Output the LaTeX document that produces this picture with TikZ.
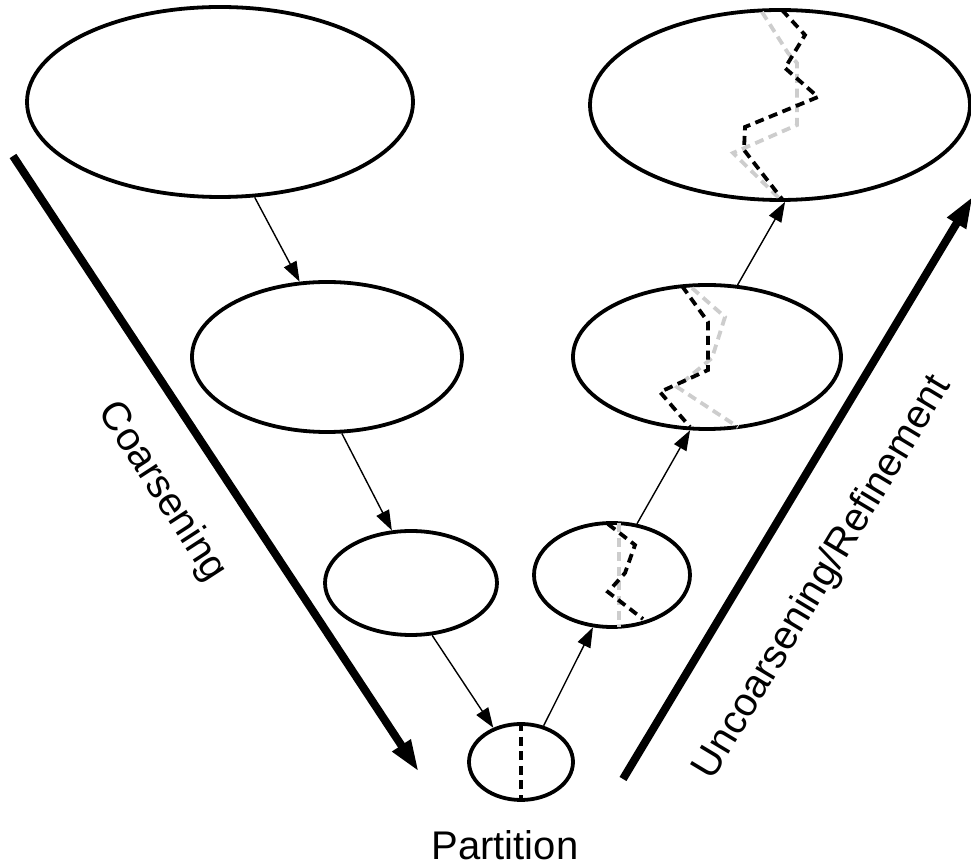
\documentclass[tikz,border=0pt]{standalone}
\usepackage{fontspec}
\setmainfont{Liberation Sans}
\usepackage{xcolor}
\usetikzlibrary{shapes.geometric,arrows.meta,positioning}
\definecolor{cLine}{HTML}{000000}
\definecolor{cOld}{HTML}{CDCDCD}
\tikzset{
  graph/.style = {ellipse, draw=cLine, line width=1.9pt, inner sep=0pt},
  lvl/.style   = {-{Triangle[length=10pt,width=7pt]}, draw=cLine, line width=0.7pt},
  phase/.style = {-{Triangle[length=16pt,width=10pt]}, draw=cLine, line width=4pt},
  cut/.style   = {draw=cLine, dash pattern=on 4.5pt off 2.8pt, line width=1.9pt},
  oldcut/.style= {draw=cOld, dash pattern=on 4.5pt off 2.8pt, line width=1.9pt},
  lbl/.style   = {font=\fontsize{20pt}{24pt}\selectfont, inner sep=0pt},
}

\begin{document}
\begin{tikzpicture}[x=0.5pt, y=-0.5pt]
  \useasboundingbox (0,0) rectangle (971,865);

  % coarsening levels
  \node[graph, minimum width=193pt, minimum height=95pt] (c0) at (220,102) {};
  \node[graph, minimum width=135pt, minimum height=75pt] (c1) at (327,357) {};
  \node[graph, minimum width=86pt,  minimum height=52pt] (c2) at (411,583) {};
  \node[graph, minimum width=52pt,  minimum height=38pt] (p)  at (521,762) {};
  % refinement levels
  \node[graph, minimum width=78pt,  minimum height=52pt] (r2) at (612,575) {};
  \node[graph, minimum width=134pt, minimum height=72pt] (r1) at (707,357) {};
  \node[graph, minimum width=190pt, minimum height=95pt] (r0) at (780,105) {};

  \draw[lvl] (c0.-70) -- (c1.110);
  \draw[lvl] (c1.-79) -- (c2.110);
  \draw[lvl] (c2.-68) -- (p.129);
  \draw[lvl] (p.58)   -- (r2.-110);
  \draw[lvl] (r2.64)  -- (r1.-103);
  \draw[lvl] (r1.67)  -- (r0.-87);

  % partition cuts
  \draw[cut] (p.north) -- (p.south);
  \begin{scope}[shift={(r2.center)}]
    \draw[oldcut] (7,-52) -- (7,52);
    \draw[cut] (-4,-51) -- (23,-30) -- (13,-2) -- (-4,17) -- (31,44);
  \end{scope}
  \begin{scope}[shift={(r1.center)}]
    \draw[oldcut] (-15,-69) -- (18,-40) -- (5,1) -- (-30,30) -- (31,70);
    \draw[cut] (-25,-71) -- (1,-35) -- (1,13) -- (-47,35) -- (-17,70);
  \end{scope}
  \begin{scope}[shift={(r0.center)}]
    \draw[oldcut] (-18,-93) -- (8,-52) -- (17,-42) -- (17,20) -- (-47,48) -- (0,94);
    \draw[cut] (2,-95) -- (25,-70) -- (5,-37) -- (38,-8) -- (-35,22) -- (-36,45) -- (2,94);
  \end{scope}

  % phase arrows
  \coordinate (cs) at (13,156);
  \coordinate (ce) at (419,772);
  \coordinate (us) at (623,779);
  \coordinate (ue) at (973,196);
  \draw[phase] (cs) -- (ce);
  \draw[phase] (us) -- (ue);

  \node[lbl, rotate=-57] (coarse) at (162,492) {Coarsening};
  \node[lbl, rotate=59]  (refine) at (823,578) {Uncoarsening/Refinement};
  \node[lbl] (part) at (505,845) {Partition};
\end{tikzpicture}
\end{document}
